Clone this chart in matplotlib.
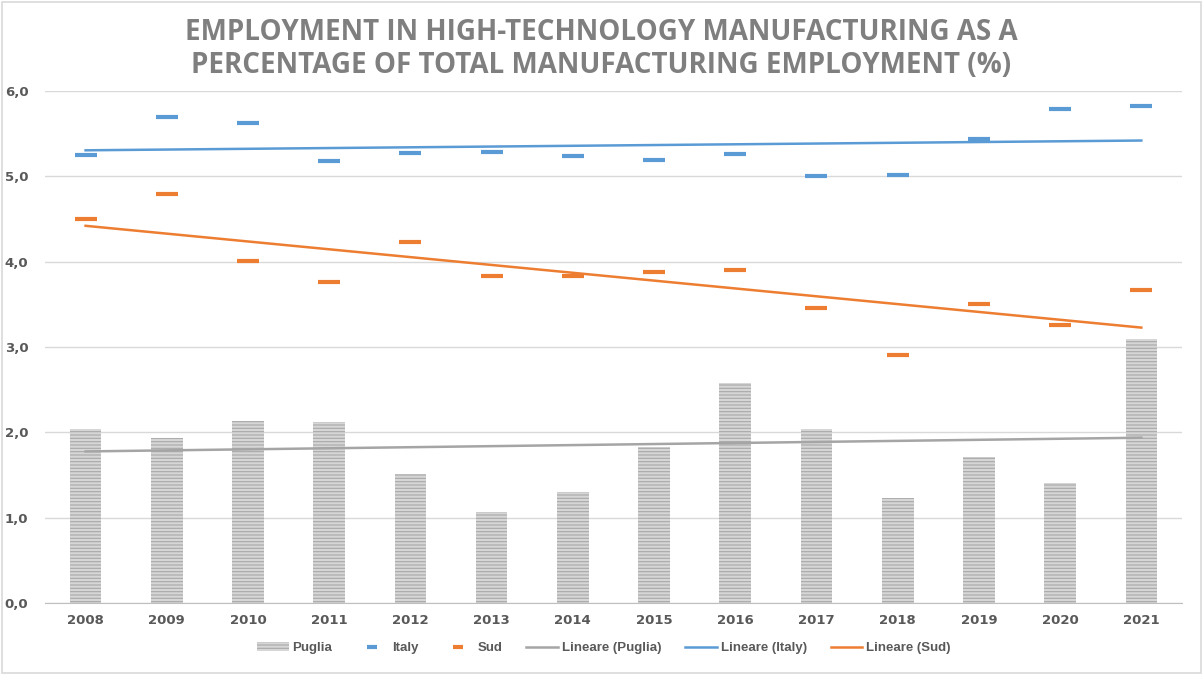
import matplotlib.pyplot as plt
import numpy as np
from matplotlib.patches import Rectangle, Patch
from matplotlib.lines import Line2D

plt.rcParams['hatch.linewidth'] = 0.8

years = [str(y) for y in range(2008, 2022)]
puglia = [2.04, 1.93, 2.13, 2.12, 1.51, 1.07, 1.30, 1.83, 2.58, 2.04, 1.23, 1.71, 1.41, 3.09]
italy = [5.25, 5.70, 5.63, 5.18, 5.27, 5.29, 5.24, 5.19, 5.26, 5.00, 5.01, 5.44, 5.79, 5.82]
sud = [4.50, 4.79, 4.01, 3.76, 4.23, 3.83, 3.83, 3.88, 3.90, 3.46, 2.91, 3.50, 3.26, 3.67]

BLUE = '#5b9bd5'
ORANGE = '#ed7d31'
GRAY = '#a5a5a5'
TEXT = '#7f7f7f'

fig = plt.figure(figsize=(12.03, 6.75), dpi=100)
ax = fig.add_axes([0.0374, 0.1067, 0.9451, 0.7585])

x = np.arange(len(years))

# bars with horizontal stripes
ax.bar(x, puglia, width=0.39, color='#d6d6d6', edgecolor='#a8a8a8',
       hatch='-----', linewidth=0, zorder=2)

ax.plot(x, italy, ls='none', marker='_', ms=16, mew=3, color=BLUE, zorder=3)
ax.plot(x, sud, ls='none', marker='_', ms=16, mew=3, color=ORANGE, zorder=3)

# linear trendlines
for vals, col in [(puglia, GRAY), (italy, BLUE), (sud, ORANGE)]:
    k, b = np.polyfit(x, vals, 1)
    ax.plot(x, k * x + b, color=col, lw=1.8, zorder=4)

ax.set_xlim(-0.5, len(years) - 0.5)
ax.set_ylim(0, 6)
ax.set_yticks(np.arange(0, 7, 1))
ax.set_yticklabels(['%d,0' % v for v in range(7)])
ax.set_xticks(x)
ax.set_xticklabels(years)
ax.yaxis.grid(True, color='#d9d9d9', lw=1)
ax.set_axisbelow(True)
for s in ['top', 'right', 'left']:
    ax.spines[s].set_visible(False)
ax.spines['bottom'].set_color('#bfbfbf')
ax.tick_params(length=0, labelsize=9.5, labelcolor='#595959', pad=8)
for lab in ax.get_xticklabels() + ax.get_yticklabels():
    lab.set_fontweight('bold')
ax.tick_params(axis='y', pad=12)

fig.text(0.5, 0.973, 'EMPLOYMENT IN HIGH-TECHNOLOGY MANUFACTURING AS A\nPERCENTAGE OF TOTAL MANUFACTURING EMPLOYMENT (%)',
         ha='center', va='top', fontsize=20, fontweight='bold', color=TEXT,
         family='Open Sans', linespacing=1.15)

handles = [
    Patch(facecolor='#d6d6d6', edgecolor='#a8a8a8', hatch='-----', linewidth=0),
    Line2D([], [], ls='none', marker='_', ms=7, mew=3, color=BLUE),
    Line2D([], [], ls='none', marker='_', ms=7, mew=3, color=ORANGE),
    Line2D([], [], color=GRAY, lw=1.8),
    Line2D([], [], color=BLUE, lw=1.8),
    Line2D([], [], color=ORANGE, lw=1.8),
]
labels = ['Puglia', 'Italy', 'Sud', 'Lineare (Puglia)', 'Lineare (Italy)', 'Lineare (Sud)']
leg = fig.legend(handles, labels, loc='center', bbox_to_anchor=(0.502, 0.04), ncol=6,
                 frameon=False, prop={'family': 'Liberation Sans', 'weight': 'bold', 'size': 9.5},
                 handlelength=2.4, handleheight=0.6, columnspacing=1.8, handletextpad=0.3)
for t in leg.get_texts():
    t.set_color('#595959')

fig.patches.append(Rectangle((0.002, 0.003), 0.996, 0.994, transform=fig.transFigure,
                             fill=False, edgecolor='#d9d9d9', lw=1.2))

fig.savefig('out.png', dpi=100)
